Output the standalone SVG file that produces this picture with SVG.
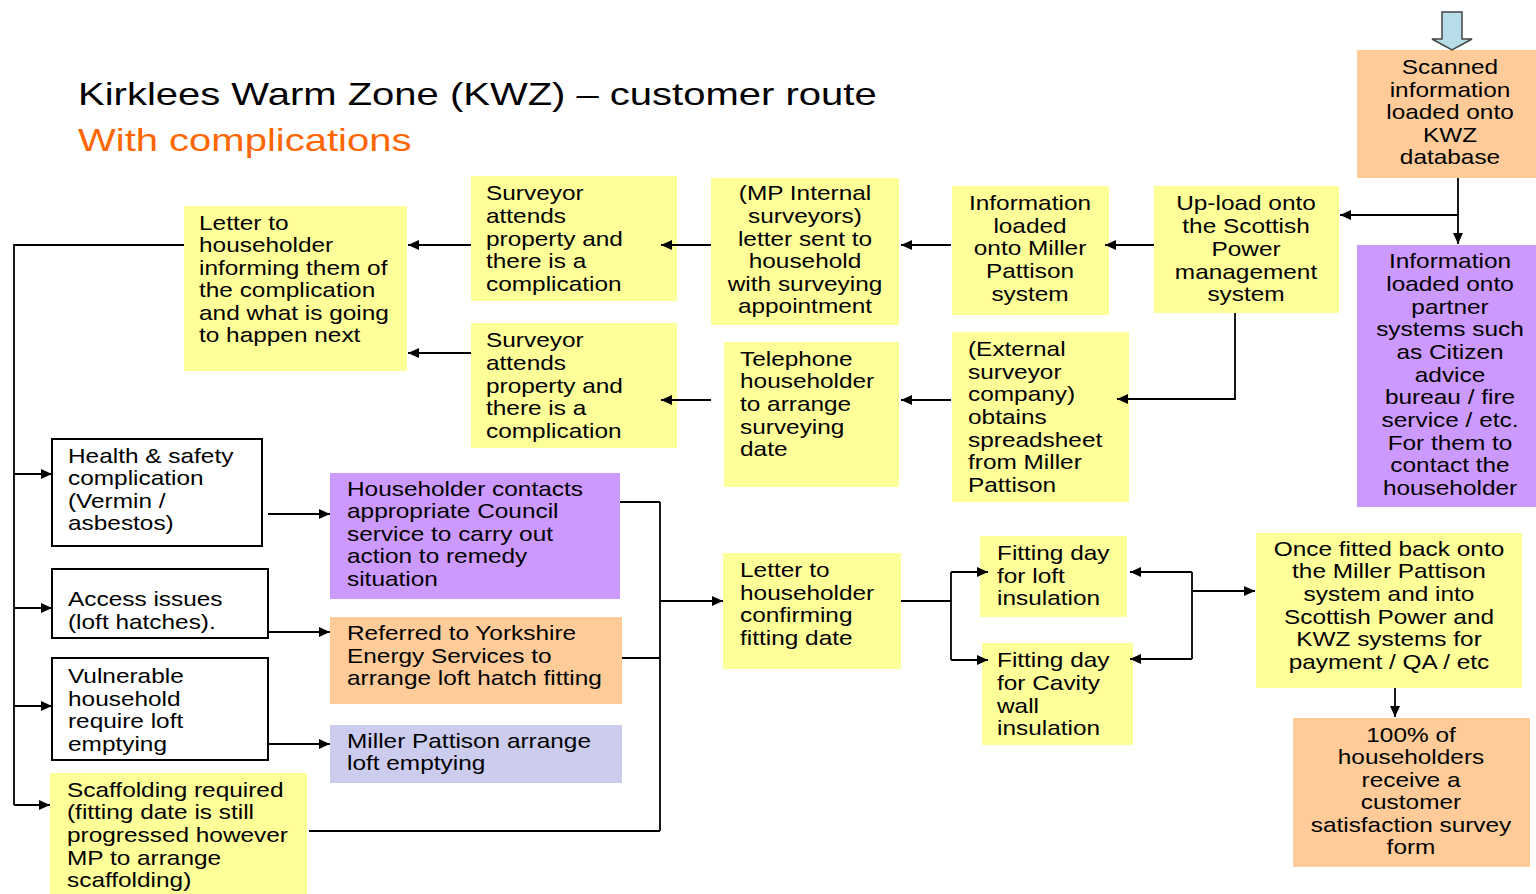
<svg xmlns="http://www.w3.org/2000/svg" width="1536" height="894" viewBox="0 0 1536 894">
<defs>
<marker id="arr" markerUnits="userSpaceOnUse" markerWidth="11" markerHeight="10" refX="11" refY="5" orient="auto">
<path d="M0,0 L11,5 L0,10 z" fill="#000"/>
</marker>
<style>
.t{font-family:"Liberation Sans",Arial,sans-serif;font-size:20px;fill:#000}
.c{text-anchor:middle}
.y{fill:#FFFF99}
.o{fill:#FFCC99}
.p{fill:#CC99FF}
.l{fill:#CCCCEE}
.w{fill:#fff;stroke:#000;stroke-width:2}
.ln{fill:none;stroke:#000;stroke-width:1.8}
.ar{fill:none;stroke:#000;stroke-width:1.8;marker-end:url(#arr)}
.h1{font-family:"Liberation Sans",Arial,sans-serif;font-size:32px}
</style>
</defs>
<rect width="1536" height="894" fill="#fff"/>

<text class="h1" fill="#000" transform="translate(78,0) scale(1.25,1)" x="0" y="105">Kirklees Warm Zone (KWZ) – customer route</text>
<text class="h1" fill="#FF6600" transform="translate(78,0) scale(1.25,1)" x="0" y="151">With complications</text>

<g id="scanned">
<rect class="o" x="1357" y="50" width="179" height="128"/>
<text class="t c" transform="translate(1450,0) scale(1.22,1)"><tspan x="0" y="74">Scanned</tspan><tspan x="0" y="97">information</tspan><tspan x="0" y="119">loaded onto</tspan><tspan x="0" y="142">KWZ</tspan><tspan x="0" y="164">database</tspan></text>
</g>

<g id="partner">
<rect class="p" x="1357" y="245" width="179" height="262"/>
<text class="t c" transform="translate(1450,0) scale(1.22,1)"><tspan x="0" y="268">Information</tspan><tspan x="0" y="291">loaded onto</tspan><tspan x="0" y="314">partner</tspan><tspan x="0" y="336">systems such</tspan><tspan x="0" y="359">as Citizen</tspan><tspan x="0" y="382">advice</tspan><tspan x="0" y="404">bureau / fire</tspan><tspan x="0" y="427">service / etc.</tspan><tspan x="0" y="450">For them to</tspan><tspan x="0" y="472">contact the</tspan><tspan x="0" y="495">householder</tspan></text>
</g>

<g id="upload">
<rect class="y" x="1154" y="186" width="185" height="127"/>
<text class="t c" transform="translate(1246,0) scale(1.22,1)"><tspan x="0" y="210">Up-load onto</tspan><tspan x="0" y="233">the Scottish</tspan><tspan x="0" y="256">Power</tspan><tspan x="0" y="279">management</tspan><tspan x="0" y="301">system</tspan></text>
</g>

<g id="info-mp">
<rect class="y" x="952" y="186" width="157" height="129"/>
<text class="t c" transform="translate(1030,0) scale(1.22,1)"><tspan x="0" y="210">Information</tspan><tspan x="0" y="233">loaded</tspan><tspan x="0" y="255">onto Miller</tspan><tspan x="0" y="278">Pattison</tspan><tspan x="0" y="301">system</tspan></text>
</g>

<g id="mp-internal">
<rect class="y" x="711" y="178" width="188" height="147"/>
<text class="t c" transform="translate(805,0) scale(1.22,1)"><tspan x="0" y="200">(MP Internal</tspan><tspan x="0" y="223">surveyors)</tspan><tspan x="0" y="246">letter sent to</tspan><tspan x="0" y="268">household</tspan><tspan x="0" y="291">with surveying</tspan><tspan x="0" y="313">appointment</tspan></text>
</g>

<g id="surveyor-top">
<rect class="y" x="471" y="176" width="206" height="125"/>
<text class="t" transform="translate(486,0) scale(1.22,1)"><tspan x="0" y="200">Surveyor</tspan><tspan x="0" y="223">attends</tspan><tspan x="0" y="246">property and</tspan><tspan x="0" y="268">there is a</tspan><tspan x="0" y="291">complication</tspan></text>
</g>

<g id="letter-complication">
<rect class="y" x="184" y="206" width="223" height="165"/>
<text class="t" transform="translate(199,0) scale(1.22,1)"><tspan x="0" y="230">Letter to</tspan><tspan x="0" y="252">householder</tspan><tspan x="0" y="275">informing them of</tspan><tspan x="0" y="297">the complication</tspan><tspan x="0" y="320">and what is going</tspan><tspan x="0" y="342">to happen next</tspan></text>
</g>

<g id="surveyor-bottom">
<rect class="y" x="471" y="323" width="206" height="125"/>
<text class="t" transform="translate(486,0) scale(1.22,1)"><tspan x="0" y="347">Surveyor</tspan><tspan x="0" y="370">attends</tspan><tspan x="0" y="393">property and</tspan><tspan x="0" y="415">there is a</tspan><tspan x="0" y="438">complication</tspan></text>
</g>

<g id="telephone">
<rect class="y" x="724" y="342" width="175" height="145"/>
<text class="t" transform="translate(740,0) scale(1.22,1)"><tspan x="0" y="366">Telephone</tspan><tspan x="0" y="388">householder</tspan><tspan x="0" y="411">to arrange</tspan><tspan x="0" y="434">surveying</tspan><tspan x="0" y="456">date</tspan></text>
</g>

<g id="external">
<rect class="y" x="952" y="332" width="177" height="170"/>
<text class="t" transform="translate(968,0) scale(1.22,1)"><tspan x="0" y="356">(External</tspan><tspan x="0" y="379">surveyor</tspan><tspan x="0" y="401">company)</tspan><tspan x="0" y="424">obtains</tspan><tspan x="0" y="447">spreadsheet</tspan><tspan x="0" y="469">from Miller</tspan><tspan x="0" y="492">Pattison</tspan></text>
</g>

<g id="health">
<rect class="w" x="52" y="439" width="210" height="107"/>
<text class="t" transform="translate(68,0) scale(1.22,1)"><tspan x="0" y="463">Health &amp; safety</tspan><tspan x="0" y="485">complication</tspan><tspan x="0" y="508">(Vermin /</tspan><tspan x="0" y="530">asbestos)</tspan></text>
</g>

<g id="access">
<rect class="w" x="52" y="569" width="216" height="69"/>
<text class="t" transform="translate(68,0) scale(1.22,1)"><tspan x="0" y="606">Access issues</tspan><tspan x="0" y="629">(loft hatches).</tspan></text>
</g>

<g id="vulnerable">
<rect class="w" x="52" y="658" width="216" height="102"/>
<text class="t" transform="translate(68,0) scale(1.22,1)"><tspan x="0" y="683">Vulnerable</tspan><tspan x="0" y="706">household</tspan><tspan x="0" y="728">require loft</tspan><tspan x="0" y="751">emptying</tspan></text>
</g>

<g id="scaffolding">
<rect class="y" x="50" y="773" width="257" height="121"/>
<text class="t" transform="translate(67,0) scale(1.22,1)"><tspan x="0" y="797">Scaffolding required</tspan><tspan x="0" y="819">(fitting date is still</tspan><tspan x="0" y="842">progressed however</tspan><tspan x="0" y="865">MP to arrange</tspan><tspan x="0" y="887">scaffolding)</tspan></text>
</g>

<g id="householder-contacts">
<rect class="p" x="330" y="473" width="290" height="126"/>
<text class="t" transform="translate(347,0) scale(1.22,1)"><tspan x="0" y="496">Householder contacts</tspan><tspan x="0" y="518">appropriate Council</tspan><tspan x="0" y="541">service to carry out</tspan><tspan x="0" y="563">action to remedy</tspan><tspan x="0" y="586">situation</tspan></text>
</g>

<g id="referred">
<rect class="o" x="330" y="617" width="292" height="87"/>
<text class="t" transform="translate(347,0) scale(1.22,1)"><tspan x="0" y="640">Referred to Yorkshire</tspan><tspan x="0" y="663">Energy Services to</tspan><tspan x="0" y="685">arrange loft hatch fitting</tspan></text>
</g>

<g id="mp-emptying">
<rect class="l" x="330" y="725" width="292" height="58"/>
<text class="t" transform="translate(347,0) scale(1.22,1)"><tspan x="0" y="748">Miller Pattison arrange</tspan><tspan x="0" y="770">loft emptying</tspan></text>
</g>

<g id="letter-confirm">
<rect class="y" x="723" y="553" width="178" height="116"/>
<text class="t" transform="translate(740,0) scale(1.22,1)"><tspan x="0" y="577">Letter to</tspan><tspan x="0" y="600">householder</tspan><tspan x="0" y="622">confirming</tspan><tspan x="0" y="645">fitting date</tspan></text>
</g>

<g id="fitting-loft">
<rect class="y" x="980" y="536" width="147" height="81"/>
<text class="t" transform="translate(997,0) scale(1.22,1)"><tspan x="0" y="560">Fitting day</tspan><tspan x="0" y="583">for loft</tspan><tspan x="0" y="605">insulation</tspan></text>
</g>

<g id="fitting-cavity">
<rect class="y" x="982" y="643" width="151" height="102"/>
<text class="t" transform="translate(997,0) scale(1.22,1)"><tspan x="0" y="667">Fitting day</tspan><tspan x="0" y="690">for Cavity</tspan><tspan x="0" y="713">wall</tspan><tspan x="0" y="735">insulation</tspan></text>
</g>

<g id="once-fitted">
<rect class="y" x="1256" y="533" width="266" height="155"/>
<text class="t c" transform="translate(1389,0) scale(1.22,1)"><tspan x="0" y="556">Once fitted back onto</tspan><tspan x="0" y="578">the Miller Pattison</tspan><tspan x="0" y="601">system and into</tspan><tspan x="0" y="624">Scottish Power and</tspan><tspan x="0" y="646">KWZ systems for</tspan><tspan x="0" y="669">payment / QA / etc</tspan></text>
</g>

<g id="survey">
<rect class="o" x="1293" y="718" width="237" height="149"/>
<text class="t c" transform="translate(1411,0) scale(1.22,1)"><tspan x="0" y="742">100% of</tspan><tspan x="0" y="764">householders</tspan><tspan x="0" y="787">receive a</tspan><tspan x="0" y="809">customer</tspan><tspan x="0" y="832">satisfaction survey</tspan><tspan x="0" y="854">form</tspan></text>
</g>

<g id="connectors">
<polygon points="1442,12 1462,12 1462,39 1472,39 1452,50 1432,39 1442,39" fill="#B7DEE8" stroke="#444" stroke-width="1.5"/>
<line class="ar" x1="1458" y1="178" x2="1458" y2="244"/>
<line class="ar" x1="1458" y1="215" x2="1340" y2="215"/>
<line class="ar" x1="1154" y1="245" x2="1105" y2="245"/>
<polyline class="ar" points="1235,313 1235,399 1117,399"/>
<line class="ar" x1="951" y1="245" x2="901" y2="245"/>
<line class="ar" x1="711" y1="245" x2="661" y2="245"/>
<line class="ar" x1="471" y1="245" x2="408" y2="245"/>
<line class="ar" x1="951" y1="400" x2="901" y2="400"/>
<line class="ar" x1="711" y1="400" x2="661" y2="400"/>
<line class="ar" x1="471" y1="353" x2="408" y2="353"/>
<polyline class="ln" points="184,245 14,245 14,805"/>
<line class="ar" x1="14" y1="474" x2="52" y2="474"/>
<line class="ar" x1="14" y1="608" x2="52" y2="608"/>
<line class="ar" x1="14" y1="706" x2="52" y2="706"/>
<line class="ar" x1="14" y1="805" x2="50" y2="805"/>
<line class="ar" x1="268" y1="514" x2="330" y2="514"/>
<line class="ar" x1="268" y1="632" x2="330" y2="632"/>
<line class="ar" x1="268" y1="744" x2="330" y2="744"/>
<line class="ln" x1="620" y1="502" x2="660" y2="502"/>
<line class="ln" x1="622" y1="658" x2="660" y2="658"/>
<line class="ln" x1="309" y1="831" x2="660" y2="831"/>
<line class="ln" x1="660" y1="502" x2="660" y2="831"/>
<line class="ar" x1="660" y1="601" x2="723" y2="601"/>
<line class="ln" x1="901" y1="601" x2="951" y2="601"/>
<line class="ln" x1="951" y1="572" x2="951" y2="660"/>
<line class="ar" x1="951" y1="572" x2="988" y2="572"/>
<line class="ar" x1="951" y1="660" x2="988" y2="660"/>
<line class="ln" x1="1192" y1="572" x2="1192" y2="659"/>
<line class="ar" x1="1192" y1="572" x2="1130" y2="572"/>
<line class="ar" x1="1192" y1="659" x2="1130" y2="659"/>
<line class="ar" x1="1192" y1="591" x2="1255" y2="591"/>
<line class="ar" x1="1395" y1="688" x2="1395" y2="717"/>
</g>
</svg>
